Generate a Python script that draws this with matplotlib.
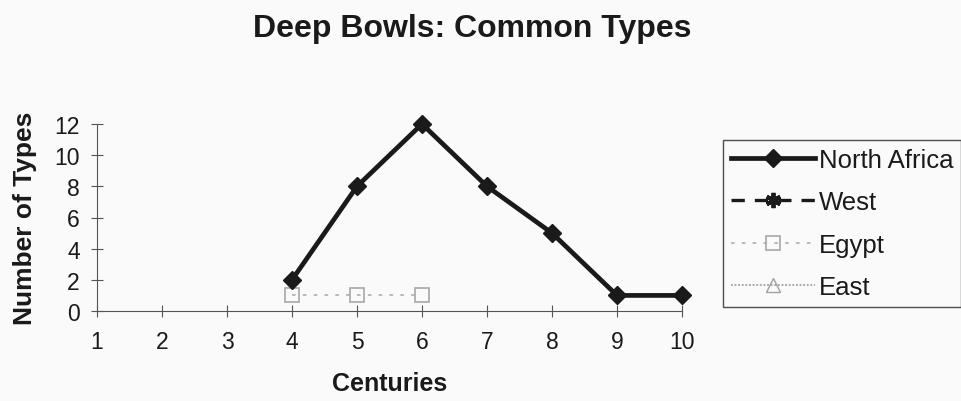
import numpy as np
import matplotlib
matplotlib.use("Agg")
import matplotlib.pyplot as plt

plt.rcParams['font.family'] = ['Liberation Sans', 'DejaVu Sans']

centuries = [1, 2, 3, 4, 5, 6, 7, 8, 9, 10]
north_africa = [np.nan, np.nan, np.nan, 2, 8, 12, 8, 5, 1, 1]
west = [np.nan] * 10
egypt = [np.nan, np.nan, np.nan, 1, 1, 1, np.nan, np.nan, np.nan, np.nan]
east = [np.nan] * 10
yticks = [0, 2, 4, 6, 8, 10, 12]

bg = '#fafafa'
fig = plt.figure(figsize=(9.62, 4.02), dpi=100, facecolor=bg)
ax = fig.add_axes([97/962, 1-312/402, (682-97)/962, (312-125)/402])
ax.set_facecolor(bg)

ax.plot(centuries, north_africa, color='#1a1a1a', lw=3.4, marker='D', ms=9,
        label='North Africa', zorder=4, clip_on=False)
ax.plot(centuries, west, color='#1a1a1a', lw=2.4, ls=(0, (4, 3)), marker=(6, 2, 0), ms=11,
        mew=2.8, label='West')
ax.plot(centuries, egypt, color='#b4b4b4', lw=1.3, ls=(0, (2, 4)), marker='s', ms=10,
        mfc='none', mec='#a8a8a8', mew=1.2, label='Egypt', zorder=3, clip_on=False)
ax.plot(centuries, east, color='#a0a0a0', lw=1.3, ls=(0, (1, 1)), marker='^', ms=10,
        mfc='none', mec='#a0a0a0', mew=1.0, label='East')

ax.set_xlim(1, 10)
ax.set_ylim(0, 12)
ax.set_xticks(centuries)
ax.set_yticks(yticks)
ax.tick_params(axis='both', direction='inout', length=9, width=0.8, color='#555555',
               labelsize=16.5, pad=8, labelcolor='#1a1a1a')
ax.tick_params(axis='x', pad=9)
for s in ['top', 'right']:
    ax.spines[s].set_visible(False)
for s in ['left', 'bottom']:
    ax.spines[s].set_color('#555555')
    ax.spines[s].set_linewidth(0.8)

ax.set_xlabel('Centuries', fontsize=18, fontweight='bold', labelpad=13, color='#1a1a1a')
ax.set_ylabel('Number of Types', fontsize=19, fontweight='bold', labelpad=12, color='#1a1a1a')
fig.text(472/962, 1-37/402, 'Deep Bowls: Common Types', fontsize=23, fontweight='bold',
         ha='center', va='baseline', color='#1a1a1a')

leg = fig.legend(loc='upper left', bbox_to_anchor=(723/962, 1-141/402), fontsize=18.5,
                 handlelength=3.3, labelspacing=0.72, handletextpad=0.12,
                 frameon=True, fancybox=False, borderpad=0.3, borderaxespad=0,
                 labelcolor='#1a1a1a')
leg.get_frame().set_edgecolor('#222222')
leg.get_frame().set_linewidth(1.0)
leg.get_frame().set_facecolor(bg)

fig.savefig('out.png', dpi=100, facecolor=fig.get_facecolor())
